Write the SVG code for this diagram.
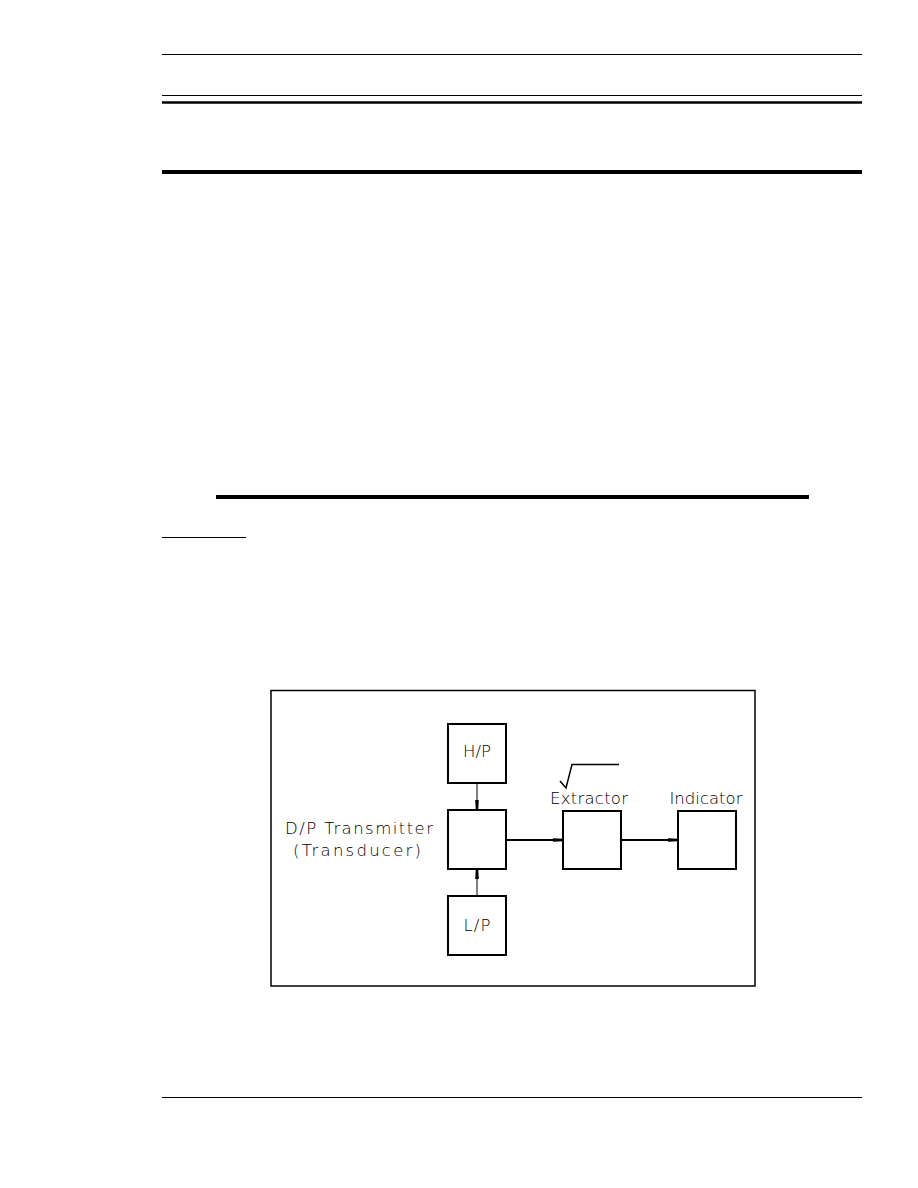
<svg xmlns="http://www.w3.org/2000/svg" width="918" height="1188" viewBox="0 0 918 1188">
<style>
.rule{stroke:#000;fill:none}
.box{fill:#fff;stroke:#000;stroke-width:2}
.lbl{font-family:"DejaVu Sans","Liberation Sans",sans-serif;font-size:16.5px;font-weight:200;fill:#000}
.conn{stroke:#000;fill:none}
</style>
<defs>
<marker id="ah" viewBox="0 0 10 6" refX="10" refY="3" markerWidth="10" markerHeight="6" markerUnits="userSpaceOnUse" orient="auto">
<path d="M0,1.2 L10,1.8 L10,4.2 L0,4.8 Z" fill="#000"/>
</marker>
</defs>
<rect width="918" height="1188" fill="#fff"/>
<g id="page-rules">
<line class="rule" x1="162" y1="54.5" x2="862" y2="54.5" stroke-width="1"/>
<line class="rule" x1="162" y1="95.5" x2="862" y2="95.5" stroke-width="1"/>
<line class="rule" x1="162" y1="102.5" x2="862" y2="102.5" stroke-width="2.5"/>
<line class="rule" x1="162" y1="172" x2="862" y2="172" stroke-width="4"/>
<line class="rule" x1="216" y1="497" x2="809" y2="497" stroke-width="4"/>
<line class="rule" x1="162" y1="537.5" x2="246" y2="537.5" stroke-width="1"/>
<line class="rule" x1="162" y1="1097.5" x2="862" y2="1097.5" stroke-width="1"/>
</g>
<rect id="frame" x="271" y="690.5" width="484" height="295.5" fill="none" stroke="#000" stroke-width="1.5"/>
<g id="connectors">
<line class="conn" x1="477" y1="783" x2="477" y2="810" stroke-width="1" marker-end="url(#ah)"/>
<line class="conn" x1="477" y1="896" x2="477" y2="869" stroke-width="1" marker-end="url(#ah)"/>
<line class="conn" x1="506" y1="840" x2="563" y2="840" stroke-width="2" marker-end="url(#ah)"/>
<line class="conn" x1="621" y1="840" x2="678" y2="840" stroke-width="2" marker-end="url(#ah)"/>
</g>
<g id="hp">
<rect class="box" x="448" y="724" width="58" height="59"/>
<text class="lbl" x="477" y="757" text-anchor="middle" textLength="28" lengthAdjust="spacing">H/P</text>
</g>
<g id="dp">
<rect class="box" x="448" y="810" width="58" height="59"/>
<text class="lbl" x="359" y="834" text-anchor="middle" textLength="148" lengthAdjust="spacing">D/P  Transmitter</text>
<text class="lbl" x="357" y="856" text-anchor="middle" textLength="128" lengthAdjust="spacing">(Transducer)</text>
</g>
<g id="lp">
<rect class="box" x="448" y="896" width="58" height="59"/>
<text class="lbl" x="477" y="931" text-anchor="middle" textLength="27" lengthAdjust="spacing">L/P</text>
</g>
<g id="extractor">
<rect class="box" x="563" y="811" width="58" height="58"/>
<text class="lbl" x="589" y="804" text-anchor="middle" textLength="78" lengthAdjust="spacing">Extractor</text>
<polyline points="560,781 566,788 572,764.5 619,764.5" fill="none" stroke="#000" stroke-width="1.5"/>
</g>
<g id="indicator">
<rect class="box" x="678" y="811" width="58" height="58"/>
<text class="lbl" x="706" y="804" text-anchor="middle" textLength="73" lengthAdjust="spacing">Indicator</text>
</g>
</svg>
